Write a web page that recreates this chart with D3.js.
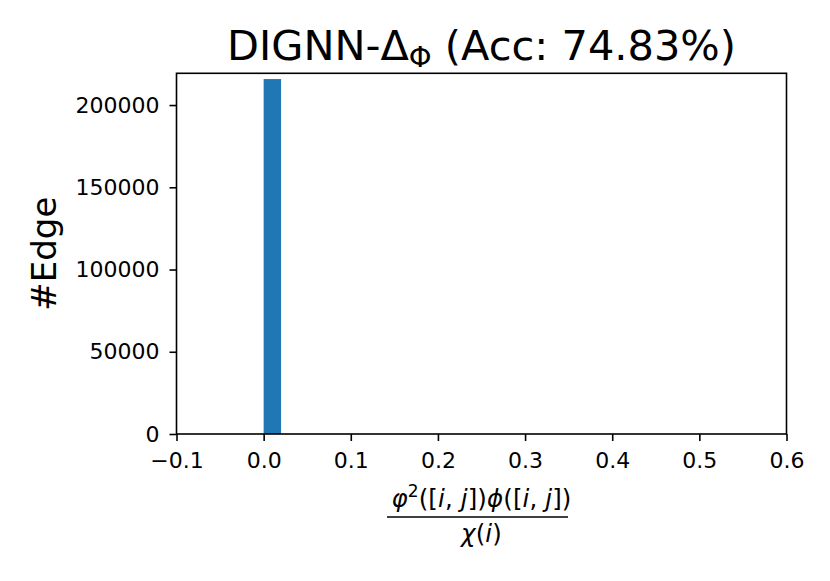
<!DOCTYPE html>
<html>
<head>
<meta charset="utf-8">
<script src="https://cdn.jsdelivr.net/npm/d3@7"></script>
<style>
  body { margin: 0; background: #fff; }
  text { font-family: "DejaVu Sans", sans-serif; }
</style>
</head>
<body>
<div id="chart"></div>
<script>
(function () {
  "use strict";

  // histogram bins (left edge, right edge, count)
  const binStarts = [0.0];
  const binEnds = [0.02];
  const binCounts = [215800];

  const xTicks = [-0.1, 0.0, 0.1, 0.2, 0.3, 0.4, 0.5, 0.6];
  const yTicks = [0, 50000, 100000, 150000, 200000];
  const xDomain = [-0.1, 0.6];
  const yDomain = [0, 219300];

  const w = 830, h = 581;
  const m = { left: 176.5, right: 43.5, top: 73.3, bottom: 147 };

  const svg = d3.select("#chart").append("svg")
    .attr("width", w).attr("height", h);

  const x = d3.scaleLinear().domain(xDomain).range([m.left, w - m.right]);
  const y = d3.scaleLinear().domain(yDomain).range([h - m.bottom, m.top]);

  const bins = binCounts.map((c, i) => ({ x0: binStarts[i], x1: binEnds[i], n: c }));

  svg.selectAll("rect.bar")
    .data(bins)
    .enter().append("rect")
    .attr("class", "bar")
    .attr("x", d => x(d.x0))
    .attr("width", d => x(d.x1) - x(d.x0))
    .attr("y", d => y(d.n))
    .attr("height", d => y(0) - y(d.n))
    .attr("fill", "#1f77b4");

  // axes
  const fmtX = d => d < 0 ? "\u2212" + Math.abs(d).toFixed(1) : d.toFixed(1);
  const xAxis = svg.append("g")
    .attr("transform", `translate(0,${h - m.bottom})`)
    .call(d3.axisBottom(x).tickValues(xTicks).tickFormat(fmtX).tickSize(7).tickPadding(11));
  const yAxis = svg.append("g")
    .attr("transform", `translate(${m.left},0)`)
    .call(d3.axisLeft(y).tickValues(yTicks).tickFormat(d3.format("d")).tickSize(7).tickPadding(10));

  [xAxis, yAxis].forEach(g => {
    g.select(".domain").remove();
    g.selectAll("line").attr("stroke", "#000").attr("stroke-width", 1.6);
    g.selectAll("text").attr("fill", "#000").attr("font-size", "22px")
      .attr("font-family", "DejaVu Sans, sans-serif");
  });

  // frame
  svg.append("rect")
    .attr("x", m.left).attr("y", m.top)
    .attr("width", w - m.left - m.right)
    .attr("height", h - m.top - m.bottom)
    .attr("fill", "none").attr("stroke", "#000").attr("stroke-width", 1.6);

  // title
  const cx = (m.left + w - m.right) / 2;
  const title = svg.append("text")
    .attr("x", cx).attr("y", 60)
    .attr("text-anchor", "middle")
    .attr("font-size", "41.5px");
  title.append("tspan").text("DIGNN-\u0394");
  title.append("tspan").attr("font-size", "29px").attr("dy", 7).text("\u03A6");
  title.append("tspan").attr("dy", -7).text(" (Acc: 74.83%)");

  // y label
  svg.append("text")
    .attr("transform", `translate(56,${(m.top + h - m.bottom) / 2}) rotate(-90)`)
    .attr("text-anchor", "middle")
    .attr("font-size", "34px")
    .text("#Edge");

  // x label (fraction)
  const num = svg.append("text")
    .attr("x", cx).attr("y", 507)
    .attr("text-anchor", "middle")
    .attr("font-size", "24.5px")
    .attr("letter-spacing", "0.1px");
  num.append("tspan").attr("font-style", "italic").text("\u03C6");
  num.append("tspan").attr("font-size", "17px").attr("dy", -10).text("2");
  num.append("tspan").attr("dy", 10).text("([");
  num.append("tspan").attr("font-style", "italic").text("i");
  num.append("tspan").text(", ");
  num.append("tspan").attr("font-style", "italic").text("j");
  num.append("tspan").text("])");
  num.append("tspan").attr("font-style", "italic").text("\u03D5");
  num.append("tspan").text("([");
  num.append("tspan").attr("font-style", "italic").text("i");
  num.append("tspan").text(", ");
  num.append("tspan").attr("font-style", "italic").text("j");
  num.append("tspan").text("])");

  svg.append("line")
    .attr("x1", 387).attr("x2", 568)
    .attr("y1", 517).attr("y2", 517)
    .attr("stroke", "#000").attr("stroke-width", 1.6);

  const den = svg.append("text")
    .attr("x", cx).attr("y", 542)
    .attr("text-anchor", "middle")
    .attr("font-size", "24.5px")
    .attr("letter-spacing", "0.1px");
  den.append("tspan").attr("font-style", "italic").text("\u03C7");
  den.append("tspan").text("(");
  den.append("tspan").attr("font-style", "italic").text("i");
  den.append("tspan").text(")");
})();
</script>
</body>
</html>
